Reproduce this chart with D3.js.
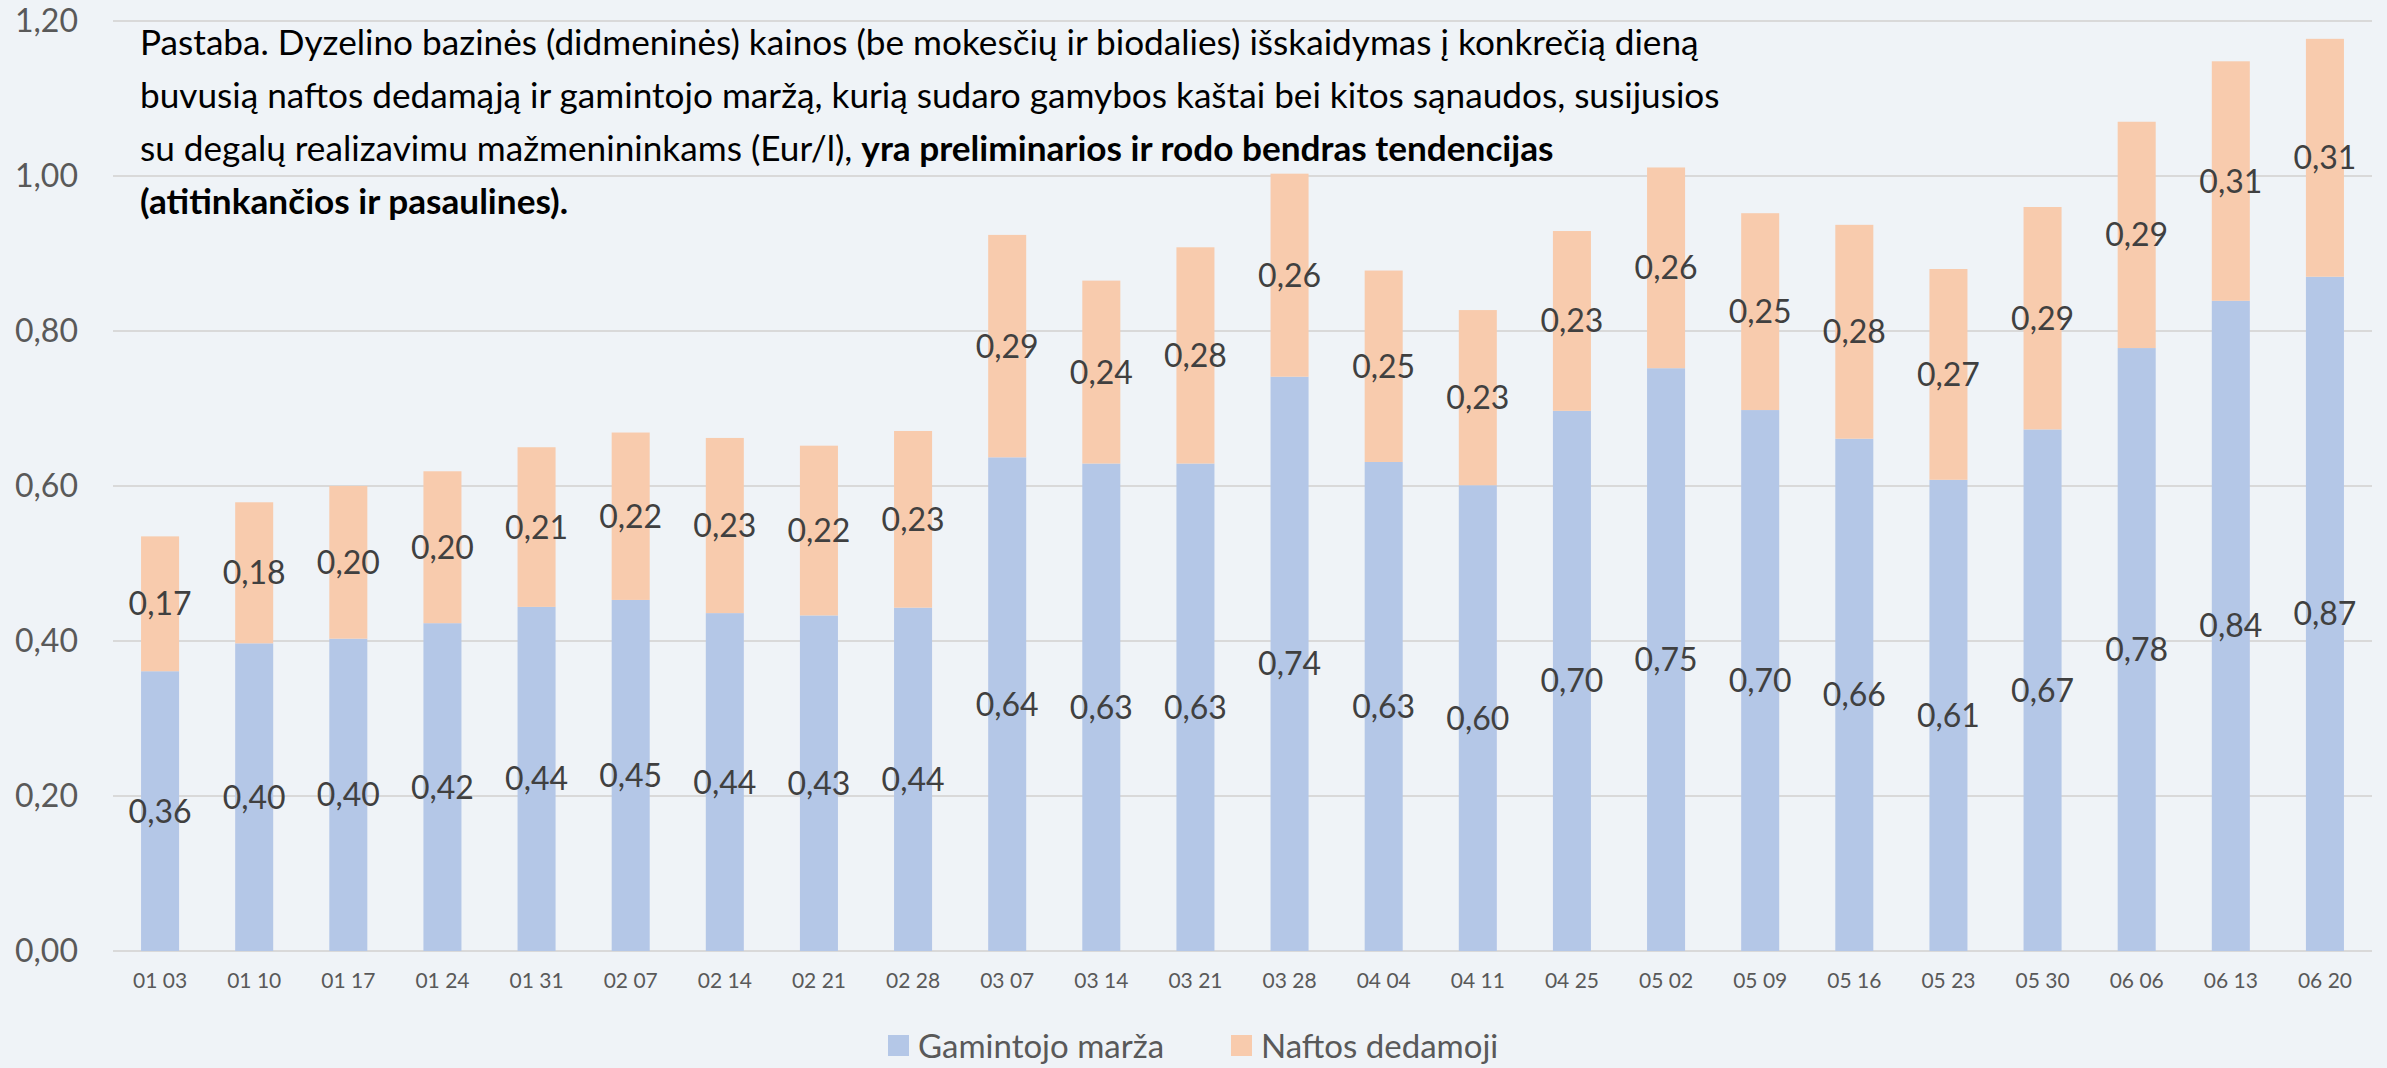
<!DOCTYPE html>
<html>
<head>
<meta charset="utf-8">
<script src="https://cdn.jsdelivr.net/npm/d3@7"></script>
<style>
    html, body { margin: 0; padding: 0; background: #eff3f7; }
    svg { display: block; }
</style>
</head>
<body>
<div id="chart"></div>
<script>
// data (Eur/l)
const dates = ["01 03", "01 10", "01 17", "01 24", "01 31", "02 07", "02 14", "02 21", "02 28",
    "03 07", "03 14", "03 21", "03 28", "04 04", "04 11", "04 25", "05 02", "05 09", "05 16",
    "05 23", "05 30", "06 06", "06 13", "06 20"]
const marza = [0.361, 0.397, 0.403, 0.423, 0.444, 0.453, 0.436, 0.433, 0.443,
    0.637, 0.629, 0.629, 0.741, 0.631, 0.601, 0.697, 0.752, 0.698, 0.661,
    0.608, 0.673, 0.778, 0.839, 0.870]
const nafta = [0.174, 0.182, 0.197, 0.196, 0.206, 0.216, 0.226, 0.219, 0.228,
    0.287, 0.236, 0.279, 0.262, 0.247, 0.226, 0.232, 0.259, 0.254, 0.276,
    0.272, 0.287, 0.292, 0.309, 0.307]
const yTicks = [0, 0.2, 0.4, 0.6, 0.8, 1.0, 1.2]
const seriesNames = ["Gamintojo marža", "Naftos dedamoji"]
const colors = ["#b4c7e7", "#f8cbad"]

const noteLines = [
    [{ t: "Pastaba. Dyzelino bazinės (didmeninės) kainos (be mokesčių ir biodalies) išskaidymas į konkrečią dieną" }],
    [{ t: "buvusią naftos dedamąją ir gamintojo maržą, kurią sudaro gamybos kaštai bei kitos sąnaudos, susijusios" }],
    [{ t: "su degalų realizavimu mažmenininkams (Eur/l), " }, { t: "yra preliminarios ir rodo bendras tendencijas", b: true }],
    [{ t: "(atitinkančios ir pasaulines).", b: true }]
]

const font = "Lato, 'Open Sans', sans-serif"
const fmt = d => d3.format(".2f")(d).replace(".", ",")

let width = 2387, height = 1068
let margin = { top: 21, right: 15, bottom: 117, left: 113 }

let rows = dates.map((d, i) => ({ date: d, marza: marza[i], nafta: nafta[i] }))
let stacked = d3.stack().keys(["marza", "nafta"])(rows)

// scales
let x = d3.scaleBand()
    .domain(dates)
    .range([margin.left, width - margin.right])
    .paddingInner(0.596)
    .paddingOuter(0.298)
let y = d3.scaleLinear()
    .domain([0, 1.2])
    .range([height - margin.bottom, margin.top])

let svg = d3.select("#chart").append("svg")
    .attr("width", width)
    .attr("height", height)
    .style("background", "#eff3f7")

// gridlines
svg.append("g")
    .selectAll("line")
    .data(yTicks)
    .enter().append("line")
    .attr("x1", margin.left)
    .attr("x2", width - margin.right)
    .attr("y1", d => y(d))
    .attr("y2", d => y(d))
    .attr("stroke", "#d9d9d9")
    .attr("stroke-width", 2)

// y axis labels
let yAxis = svg.append("g")
    .attr("transform", "translate(" + margin.left + ",0)")
    .call(d3.axisLeft(y).tickValues(yTicks).tickFormat(fmt).tickSize(0).tickPadding(35))
yAxis.select(".domain").remove()
yAxis.selectAll("text")
    .attr("font-family", font)
    .attr("font-size", 32)
    .attr("fill", "#595959")

// x axis labels
let xAxis = svg.append("g")
    .attr("transform", "translate(0," + (height - margin.bottom) + ")")
    .call(d3.axisBottom(x).tickSize(0).tickPadding(22))
xAxis.select(".domain").remove()
xAxis.selectAll("text")
    .attr("font-family", font)
    .attr("font-size", 21)
    .attr("fill", "#595959")

// stacked bars
let layers = svg.append("g")
    .selectAll("g")
    .data(stacked)
    .enter().append("g")
    .attr("fill", (d, i) => colors[i])

layers.selectAll("rect")
    .data(d => d)
    .enter().append("rect")
    .attr("x", d => x(d.data.date))
    .attr("width", x.bandwidth())
    .attr("y", d => y(d[1]))
    .attr("height", d => y(d[0]) - y(d[1]))

// value labels, centered in each segment
svg.append("g")
    .selectAll("g")
    .data(stacked)
    .enter().append("g")
    .selectAll("text")
    .data(d => d)
    .enter().append("text")
    .attr("x", d => x(d.data.date) + x.bandwidth() / 2)
    .attr("y", d => y((d[0] + d[1]) / 2))
    .attr("dy", "0.36em")
    .attr("text-anchor", "middle")
    .attr("font-family", font)
    .attr("font-size", 32)
    .attr("fill", "#404040")
    .text(d => fmt(d[1] - d[0]))

// note text in the upper left
let note = svg.append("g")
let noteRows = noteLines.map((line, i) => {
    let t = note.append("text")
        .attr("x", 140)
        .attr("y", 55 + i * 53)
        .attr("font-family", font)
        .attr("font-size", 33)
        .attr("fill", "#000")
    line.forEach(part => {
        t.append("tspan")
            .attr("font-weight", part.b ? "bold" : "normal")
            .text(part.t)
    })
    return t
})
// second line should run to about x = 1720
let w2 = noteRows[1].node().getComputedTextLength()
let noteSize = 33 * 1580 / w2
noteRows.forEach(t => t.attr("font-size", noteSize))

// legend
let legendX = [888, 1231]
let legend = svg.append("g")
    .selectAll("g")
    .data(seriesNames)
    .enter().append("g")
    .attr("transform", (d, i) => "translate(" + legendX[i] + ",1035)")
legend.append("rect")
    .attr("width", 21)
    .attr("height", 21)
    .attr("fill", (d, i) => colors[i])
legend.append("text")
    .attr("x", 30)
    .attr("y", 11)
    .attr("dy", "0.36em")
    .attr("font-family", font)
    .attr("font-size", 33)
    .attr("fill", "#595959")
    .text(d => d)
</script>
</body>
</html>
